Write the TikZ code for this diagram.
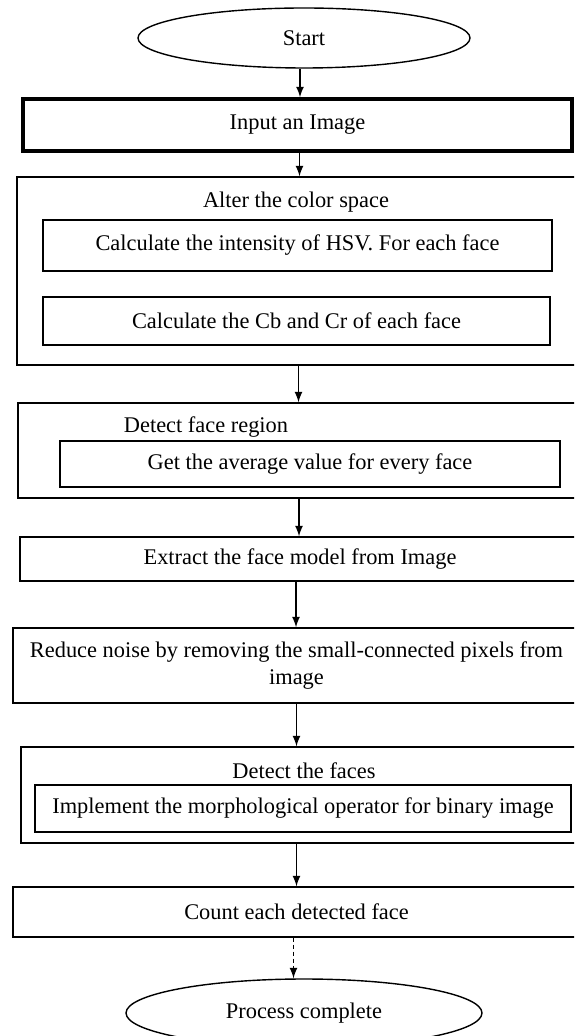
\documentclass[tikz,border=0pt]{standalone}
\usepackage{fontspec}
\setmainfont{Liberation Serif}
\usetikzlibrary{arrows}
\usetikzlibrary{shapes.geometric}

\begin{document}
\begin{tikzpicture}[x=0.5pt, y=-0.5pt,
        font=\fontsize{11.2}{13.5}\selectfont,
        box/.style={draw, rectangle, line width=0.7pt, inner sep=0pt},
        oval/.style={draw, ellipse, line width=0.7pt, inner sep=0pt},
        flow/.style={->, >=latex, line width=0.8pt}]
        \clip (0,0) rectangle (574,1036);

        \node[oval, minimum width=166pt, minimum height=30pt] (start) at (304,38) {Start};
        \node[box, line width=1.8pt, minimum width=274.5pt, minimum height=26pt] (input) at (297.5,125) {Input an Image};

        \node[box, minimum width=281.5pt, minimum height=94pt] (alter) at (298.5,271) {};
        \node (altertitle) at (296,202) {Alter the color space};
        \node[box, minimum width=254.5pt, minimum height=25.5pt] (hsv) at (297.5,245.5) {Calculate the intensity of HSV. For each face};
        \node[box, minimum width=253.5pt, minimum height=24pt] (cbcr) at (296.5,321) {Calculate the Cb and Cr of each face};

        \node[box, minimum width=281pt, minimum height=47.5pt] (region) at (299,450.5) {};
        \node (regiontitle) at (206,427) {Detect face region};
        \node[box, minimum width=250pt, minimum height=23pt] (average) at (310,464) {Get the average value for every face};

        \node[box, minimum width=280pt, minimum height=22pt] (extract) at (300,559) {Extract the face model from Image};
        \node[box, align=center, minimum width=283.5pt, minimum height=37.5pt] (reduce) at (296.5,665.5)
          {Reduce noise by removing the small-connected pixels from\\image};

        \node[box, minimum width=279.5pt, minimum height=48pt] (faces) at (300.5,795) {};
        \node (facestitle) at (304,771) {Detect the faces};
        \node[box, minimum width=268pt, minimum height=23.5pt] (morph) at (303,808.5) {Implement the morphological operator for binary image};

        \node[box, minimum width=283.5pt, minimum height=25pt] (count) at (296.5,912) {Count each detected face};
        \node[oval, minimum width=178pt, minimum height=34pt] (done) at (304,1013) {Process complete};

        \draw[flow] ([xshift=-2pt]start.south) -- ([xshift=-2pt]start.south |- input.north);
        \draw[flow] ([xshift=1pt]input.south) -- ([xshift=1pt]input.south |- alter.north);
        \draw[flow] (alter.south) -- (alter.south |- region.north);
        \draw[flow] (region.south) -- (region.south |- extract.north);
        \draw[flow] ([xshift=-2pt]extract.south) -- ([xshift=-2pt]extract.south |- reduce.north);
        \draw[flow] (reduce.south) -- (reduce.south |- faces.north);
        \draw[flow] ([xshift=-2pt]faces.south) -- ([xshift=-2pt]faces.south |- count.north);
        \draw[flow, dash pattern=on 2pt off 1.5pt] ([xshift=-1.5pt]count.south) -- ([xshift=-1.5pt]count.south |- done.north);
\end{tikzpicture}
\end{document}
